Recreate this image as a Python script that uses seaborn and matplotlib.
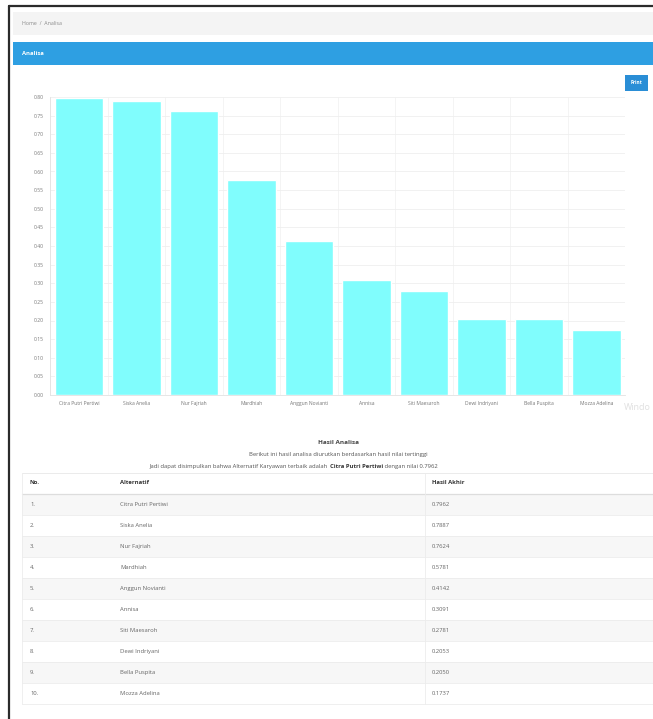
import matplotlib
matplotlib.use("Agg")
import matplotlib.pyplot as plt
from matplotlib.patches import Rectangle
import seaborn as sns
import pandas as pd

# data
alternatif = ["Citra Putri Pertiwi", "Siska Anelia", "Nur Fajriah", "Mardhiah",
              "Anggun Novianti", "Annisa", "Siti Maesaroh", "Dewi Indriyani",
              "Bella Puspita", "Mozza Adelina"]
hasil_akhir = [0.7962, 0.7887, 0.7624, 0.5781, 0.4142, 0.3091, 0.2781, 0.2053, 0.2050, 0.1737]
y_ticks = [i * 0.05 for i in range(17)]

W, H = 653, 719
sns.set_theme(style="white")
plt.rcParams["font.family"] = ["Open Sans", "DejaVu Sans"]

fig = plt.figure(figsize=(W / 100, H / 100), dpi=100)
fig.patch.set_facecolor("white")

# background axes in pixel coordinates for the page chrome
bg = fig.add_axes([0, 0, 1, 1], zorder=0)
bg.set_xlim(0, W)
bg.set_ylim(H, 0)
bg.axis("off")

# screenshot frame
bg.plot([9, 9], [6, H], color="#2b2b2b", lw=1.6)
bg.plot([9, W], [6, 6], color="#2b2b2b", lw=1.6)

# breadcrumb
bg.add_patch(Rectangle((13, 12), W - 13, 23, color="#f4f4f4", lw=0))
bg.text(22, 23.5, "Home  /  Analisa", fontsize=3.8, color="#8a8a8a", va="center")

# panel header
bg.add_patch(Rectangle((13, 42), W - 13, 23, color="#2e9fe2", lw=0))
bg.text(22, 53.5, "Analisa", fontsize=4.2, color="white", fontweight="bold", va="center")

# print button
bg.add_patch(Rectangle((625, 75), 23, 16, color="#2a8ed6", lw=0))
bg.text(636.5, 83, "Print", fontsize=3.4, color="white", ha="center", va="center", fontweight="bold")

# watermark remnant
bg.text(624, 408, "Windo", fontsize=6.5, color="#e0e0e0", va="center")

# bar chart
x0, x1, y_top, y_bot = 50.25, 625.25, 97, 395
ax = fig.add_axes([x0 / W, 1 - y_bot / H, (x1 - x0) / W, (y_bot - y_top) / H], zorder=2)
ax.set_facecolor("none")
df = pd.DataFrame({"Alternatif": alternatif, "Hasil": hasil_akhir})
sns.barplot(data=df, x="Alternatif", y="Hasil", color="#80fdfd", saturation=1,
            width=0.85, ax=ax, zorder=2)
ax.set_ylim(0, 0.8)
ax.set_yticks(y_ticks)
ax.set_yticklabels([f"{v:.2f}" for v in y_ticks], fontsize=3.6, color="#777777")
ax.tick_params(axis="x", labelsize=3.6, labelcolor="#777777", length=2, color="#e6e6e6", pad=2)
ax.tick_params(axis="y", length=2, color="#e6e6e6", pad=3)
ax.set_xticks(range(len(alternatif)))
ax.set_xticks([i + 0.5 for i in range(-1, len(alternatif))], minor=True)
ax.grid(axis="y", color="#efefef", lw=0.6, zorder=0)
ax.grid(axis="x", which="minor", color="#f3f3f3", lw=0.6, zorder=0)
ax.set_axisbelow(True)
ax.set_xlabel("")
ax.set_ylabel("")
for side in ["top", "right"]:
    ax.spines[side].set_visible(False)
for side in ["left", "bottom"]:
    ax.spines[side].set_color("#e2e2e2")
    ax.spines[side].set_linewidth(0.6)

# summary text
bg.text(339, 443, "Hasil Analisa", fontsize=4.6, color="#444444", ha="center", va="center",
        fontweight="bold")
bg.text(338, 454.5, "Berikut ini hasil analisa diurutkan berdasarkan hasil nilai tertinggi",
        fontsize=4.2, color="#555555", ha="center", va="center")
best = alternatif[0]
line_a = "Jadi dapat disimpulkan bahwa Alternatif Karyawan terbaik adalah "
line_b = f" dengan nilai {hasil_akhir[0]:.4f}"
t1 = bg.text(150, 466.5, line_a, fontsize=4.2, color="#555555", va="center")
fig.canvas.draw()
r = fig.canvas.get_renderer()
bb = t1.get_window_extent(r)
xb = bg.transData.inverted().transform((bb.x1, 0))[0]
t2 = bg.text(xb, 466.5, best, fontsize=4.2, color="#333333", va="center", fontweight="bold")
bb2 = t2.get_window_extent(r)
xc = bg.transData.inverted().transform((bb2.x1, 0))[0]
bg.text(xc, 466.5, line_b, fontsize=4.2, color="#555555", va="center")

# table
tl, tr = 22, W
row_h = 21
head_top = 473
bg.plot([tl, tr], [head_top, head_top], color="#e8e8e8", lw=0.6)
bg.text(30, 483, "No.", fontsize=4.2, color="#333333", va="center", fontweight="bold")
bg.text(120, 483, "Alternatif", fontsize=4.2, color="#333333", va="center", fontweight="bold")
bg.text(432, 483, "Hasil Akhir", fontsize=4.2, color="#333333", va="center", fontweight="bold")
body_top = head_top + 21
bg.plot([tl, tr], [body_top, body_top], color="#dddddd", lw=0.9)
for i, (nama, nilai) in enumerate(zip(alternatif, hasil_akhir)):
    top = body_top + i * row_h
    if i % 2 == 0:
        bg.add_patch(Rectangle((tl, top), tr - tl, row_h, color="#f7f7f7", lw=0, zorder=0))
    bg.plot([tl, tr], [top + row_h, top + row_h], color="#ececec", lw=0.6)
    cy = top + row_h / 2
    bg.text(30, cy, f"{i + 1}.", fontsize=4.2, color="#666666", va="center")
    bg.text(120, cy, nama, fontsize=4.2, color="#666666", va="center")
    bg.text(432, cy, f"{nilai:.4f}", fontsize=4.2, color="#666666", va="center")
table_bot = body_top + len(alternatif) * row_h
bg.plot([tl, tl], [head_top, table_bot], color="#ececec", lw=0.6)
bg.plot([425, 425], [head_top, table_bot], color="#ececec", lw=0.6)

fig.savefig("out.png", dpi=100)
